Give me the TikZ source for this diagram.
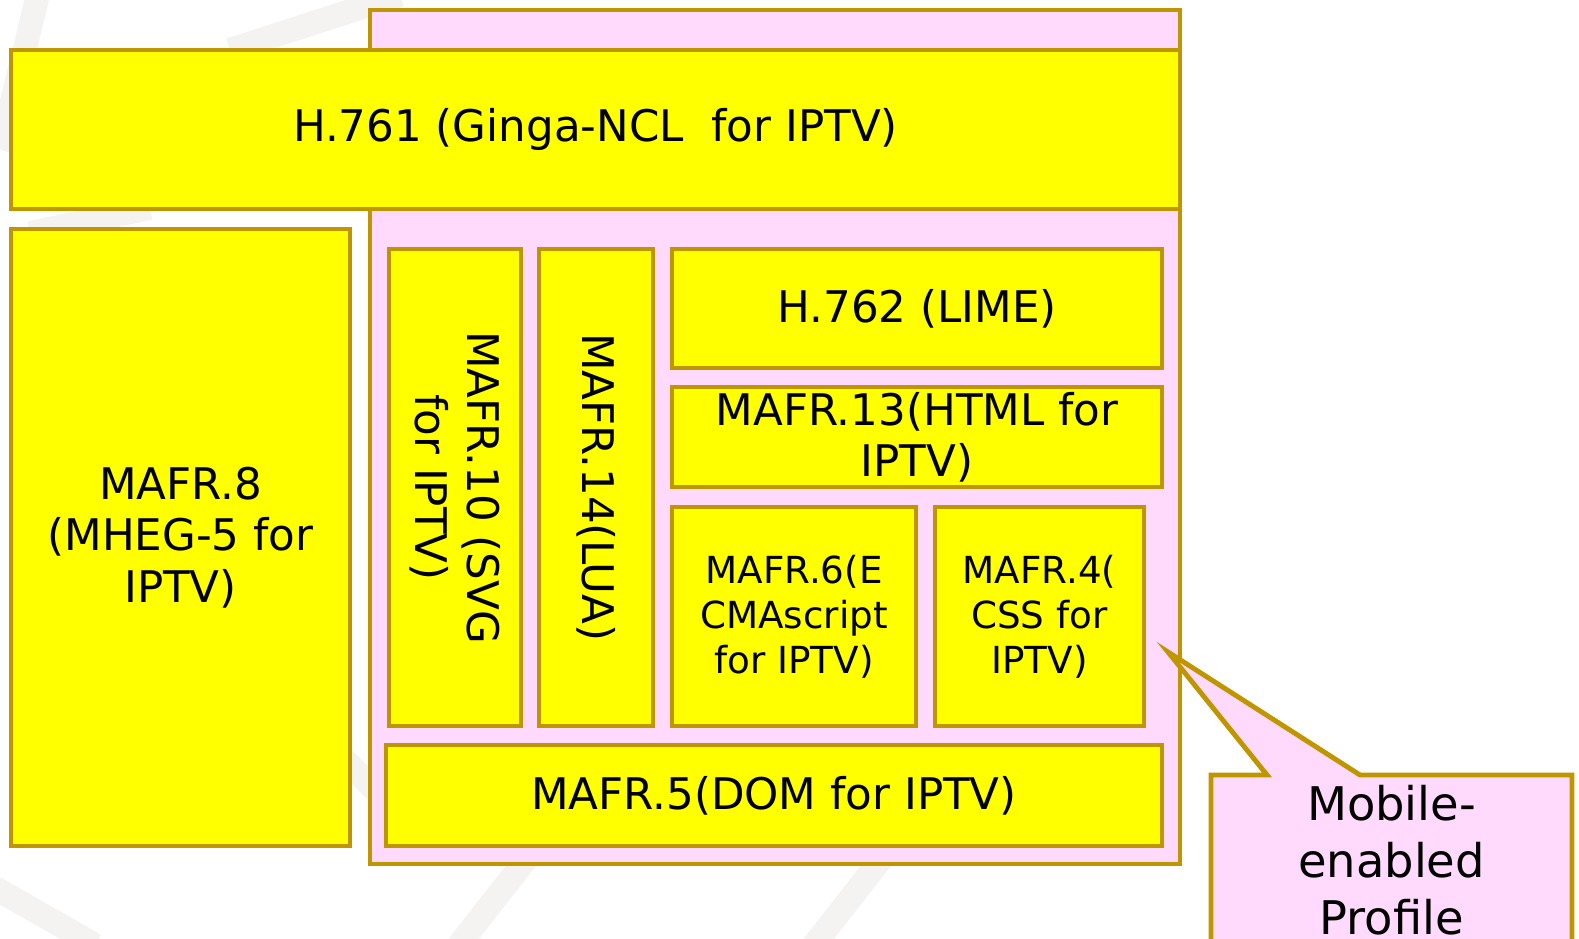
\documentclass[tikz,border=0pt]{standalone}
\usepackage{fontspec}
\setmainfont{DejaVu Sans}
\usetikzlibrary{positioning, calc}
\definecolor{boxfill}{RGB}{255,255,0}
\definecolor{boxline}{RGB}{192,150,0}
\definecolor{profilefill}{RGB}{255,218,253}
\definecolor{markgray}{RGB}{244,243,242}

\begin{document}
\begin{tikzpicture}[
    box/.style={draw=boxline, fill=boxfill, line width=1.4pt, inner sep=0pt, outer sep=0pt,
                align=center, font=\fontsize{12.4}{14.6}\selectfont},
    smallbox/.style={box, font=\fontsize{10.6}{12.8}\selectfont},
    profbox/.style={draw=boxline, fill=profilefill, line width=1.4pt, inner sep=0pt, outer sep=0pt},
    calltext/.style={inner sep=0pt, align=center, font=\fontsize{13.2}{16.2}\selectfont},
    wmark/.style={draw=markgray, line width=0.24cm},
]
\useasboundingbox (0,0) rectangle (15.79,-9.39);
\clip (0,0) rectangle (15.79,-9.39);
% faint watermark behind everything
\draw[wmark] (0.38,0.05) -- (0.0,-1.5);
\draw[wmark] (2.3,-0.5) -- (4.0,0.05);
\draw[wmark] (0.3,-2.33) -- (1.5,-2.08);
\draw[wmark] (-0.05,-8.88) -- (0.95,-9.45);
\draw[wmark] (3.3,-7.45) -- (3.8,-7.95);
\draw[wmark] (5.45,-8.35) -- (4.55,-9.50);
\draw[wmark] (9.0,-8.35) -- (8.10,-9.50);
% === profile frame ===
\node[profbox, minimum width=8.10cm, minimum height=8.54cm] (profile) at (7.75,-4.37) {};
% === top and left blocks ===
\node[box, minimum width=11.69cm, minimum height=1.59cm] (h761) at (5.955,-1.295) {H.761 (Ginga-NCL~ for IPTV)};
\node[box, minimum width=3.39cm, minimum height=6.17cm] (mafr8) at (1.805,-5.375) {MAFR.8\\(MHEG-5 for\\IPTV)};
% === inside the profile ===
\node[box, rotate=-90, minimum width=4.77cm, minimum height=1.32cm] (svg) at (4.55,-4.875) {MAFR.10 (SVG\\for IPTV)};
\node[box, rotate=-90, minimum width=4.77cm, minimum height=1.14cm] (lua) at (5.96,-4.875) {MAFR.14(LUA)};
\node[box, minimum width=4.90cm, minimum height=1.19cm] (h762) at (9.17,-3.085) {H.762 (LIME)};
\node[box, minimum width=4.90cm, minimum height=1.00cm, below=0.19 of h762] (html) {MAFR.13(HTML for\\IPTV)};
\node[smallbox, minimum width=2.44cm, minimum height=2.19cm, below=0.20 of html.south west, anchor=north west] (ecma) {MAFR.6(E\\CMAscript\\for IPTV)};
\node[smallbox, minimum width=2.09cm, minimum height=2.19cm, right=0.19 of ecma] (css) {MAFR.4(\\CSS for\\IPTV)};
\node[box, minimum width=7.76cm, minimum height=1.01cm] (dom) at (7.74,-7.955) {MAFR.5(DOM for IPTV)};
% === callout ===
\coordinate (tip) at (11.68,-6.52);
\coordinate (callnw) at (12.11,-7.75);
\filldraw[profbox] (callnw) -- ++(0.56,0) -- (tip) -- ($(callnw)+(1.49,0)$) -- ++(2.12,0) -- ++(0,-1.9) -- ++(-3.61,0) -- cycle;
\node[calltext] (mobile) at (13.915,-8.60) {Mobile-\\enabled\\Profile};
\end{tikzpicture}
\end{document}
